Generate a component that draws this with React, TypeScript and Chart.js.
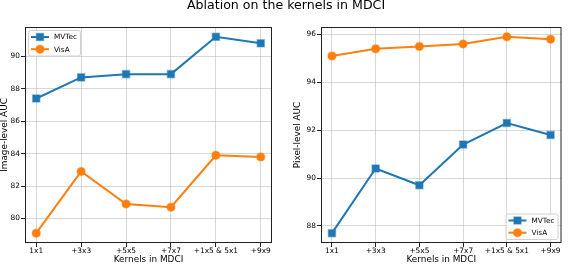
import React, { useEffect, useRef } from 'react';
import { Chart, registerables } from 'chart.js';

Chart.register(...registerables);

const categories = ['1x1', '+3x3', '+5x5', '+7x7', '+1x5 & 5x1', '+9x9'];
const seriesNames = ['MVTec', 'VisA'];
const imageMVTec = [87.4, 88.7, 88.9, 88.9, 91.2, 90.8];
const imageVisA = [79.1, 82.9, 80.9, 80.7, 83.9, 83.8];
const pixelMVTec = [87.7, 90.4, 89.7, 91.4, 92.3, 91.8];
const pixelVisA = [95.1, 95.4, 95.5, 95.6, 95.9, 95.8];
const imageTicks = [80, 82, 84, 86, 88, 90];
const pixelTicks = [88, 90, 92, 94, 96];

const BLUE = '#1f77b4';
const ORANGE = '#ff7f0e';
const BLUE_EDGE = 'rgba(31,119,180,0.45)';
const ORANGE_EDGE = 'rgba(255,127,14,0.45)';
const FONT = '"DejaVu Sans", sans-serif';

function toPoints(vals: number[]) {
  return vals.map((v, i) => ({ x: i, y: v }));
}

function framePlugin() {
  return {
    id: 'mplFrame',
    afterDraw(chart: any) {
      const { ctx, chartArea: a } = chart;
      ctx.save();
      ctx.strokeStyle = '#222';
      ctx.lineWidth = 1;
      ctx.strokeRect(a.left + 0.5, a.top + 0.5, a.right - a.left - 1, a.bottom - a.top - 1);
      ctx.restore();
    },
  };
}

function legendPlugin(corner: 'tl' | 'br') {
  return {
    id: 'mplLegend',
    afterDraw(chart: any) {
      const { ctx, chartArea: a } = chart;
      const fw = 52;
      const fh = 25.5;
      const inset = 3.5;
      const x0 = corner === 'tl' ? a.left + inset : a.right - inset - fw;
      const y0 = corner === 'tl' ? a.top + inset : a.bottom - inset - fh;
      ctx.save();
      const r = 2;
      ctx.beginPath();
      ctx.moveTo(x0 + r, y0);
      ctx.lineTo(x0 + fw - r, y0);
      ctx.arcTo(x0 + fw, y0, x0 + fw, y0 + r, r);
      ctx.lineTo(x0 + fw, y0 + fh - r);
      ctx.arcTo(x0 + fw, y0 + fh, x0 + fw - r, y0 + fh, r);
      ctx.lineTo(x0 + r, y0 + fh);
      ctx.arcTo(x0, y0 + fh, x0, y0 + fh - r, r);
      ctx.lineTo(x0, y0 + r);
      ctx.arcTo(x0, y0, x0 + r, y0, r);
      ctx.closePath();
      ctx.fillStyle = 'rgba(255,255,255,0.8)';
      ctx.fill();
      ctx.strokeStyle = '#d0d0d0';
      ctx.lineWidth = 1;
      ctx.stroke();
      chart.data.datasets.forEach((ds: any, i: number) => {
        const cy = y0 + 6.5 + i * 12.2;
        const hx0 = x0 + 2.5;
        const hx1 = hx0 + 18;
        ctx.strokeStyle = ds.borderColor;
        ctx.lineWidth = ds.borderWidth;
        ctx.beginPath();
        ctx.moveTo(hx0, cy);
        ctx.lineTo(hx1, cy);
        ctx.stroke();
        const mx = (hx0 + hx1) / 2;
        ctx.fillStyle = ds.pointBackgroundColor;
        ctx.strokeStyle = ds.pointBorderColor;
        ctx.lineWidth = ds.pointBorderWidth;
        ctx.beginPath();
        if (ds.pointStyle === 'rect') {
          const s = ds.pointRadius * Math.SQRT1_2;
          ctx.rect(mx - s, cy - s, 2 * s, 2 * s);
        } else {
          ctx.arc(mx, cy, ds.pointRadius, 0, Math.PI * 2);
        }
        ctx.fill();
        ctx.stroke();
        ctx.fillStyle = '#000';
        ctx.font = `7.3px ${FONT}`;
        ctx.textBaseline = 'middle';
        ctx.textAlign = 'left';
        ctx.fillText(ds.label, hx1 + 5, cy + 0.5);
      });
      ctx.restore();
    },
  };
}

function yRange(all: number[]) {
  const lo = Math.min(...all);
  const hi = Math.max(...all);
  const m = (hi - lo) * 0.05;
  return { min: lo - m, max: hi + m };
}

function buildConfig(
  mv: number[],
  va: number[],
  ticks: number[],
  yTitle: string,
  yWidth: number,
  yTitlePad: number,
  padRight: number,
  corner: 'tl' | 'br'
): any {
  const { min, max } = yRange([...mv, ...va]);
  const grid = {
    color: 'rgba(176,176,176,0.5)',
    tickColor: '#222',
    tickLength: 4,
    lineWidth: 1,
  };
  return {
    type: 'line',
    data: {
      datasets: [
        {
          label: seriesNames[0],
          data: toPoints(mv),
          borderColor: BLUE,
          backgroundColor: BLUE,
          borderWidth: 2,
          pointStyle: 'rect',
          pointRadius: 5,
          pointBorderWidth: 1.5,
          pointBackgroundColor: BLUE,
          pointBorderColor: BLUE_EDGE,
        },
        {
          label: seriesNames[1],
          data: toPoints(va),
          borderColor: ORANGE,
          backgroundColor: ORANGE,
          borderWidth: 2,
          pointStyle: 'circle',
          pointRadius: 4,
          pointBorderWidth: 1.5,
          pointBackgroundColor: ORANGE,
          pointBorderColor: ORANGE_EDGE,
        },
      ],
    },
    options: {
      animation: false,
      responsive: false,
      devicePixelRatio: 1,
      layout: { padding: { top: 27, right: padRight, left: 0, bottom: 0 } },
      plugins: {
        legend: { display: false },
        tooltip: { enabled: false },
        title: { display: false },
      },
      scales: {
        x: {
          type: 'linear',
          min: -0.25,
          max: 5.25,
          afterBuildTicks: (s: any) => {
            s.ticks = categories.map((_, i) => ({ value: i }));
          },
          afterFit: (s: any) => {
            s.height = 23;
          },
          ticks: {
            autoSkip: false,
            maxRotation: 0,
            padding: 0,
            color: '#000',
            font: { family: FONT, size: 7.4 },
            callback: (v: any) => categories[Math.round(Number(v))],
          },
          grid,
          border: { display: false },
          title: {
            display: true,
            text: 'Kernels in MDCI',
            color: '#000',
            font: { family: FONT, size: 8.9, lineHeight: 1 },
            padding: { top: 0, bottom: 1.5 },
          },
        },
        y: {
          type: 'linear',
          min,
          max,
          afterBuildTicks: (s: any) => {
            s.ticks = ticks.map((v) => ({ value: v }));
          },
          afterFit: (s: any) => {
            s.width = yWidth;
          },
          ticks: {
            padding: 1,
            color: '#000',
            font: { family: FONT, size: 7.4 },
          },
          grid,
          border: { display: false },
          title: {
            display: true,
            text: yTitle,
            color: '#000',
            font: { family: FONT, size: 8.9, lineHeight: 1 },
            padding: { top: yTitlePad, bottom: 0 },
          },
        },
      },
    },
    plugins: [framePlugin(), legendPlugin(corner)],
  };
}

export default function App() {
  const leftRef = useRef<HTMLCanvasElement>(null);
  const rightRef = useRef<HTMLCanvasElement>(null);

  useEffect(() => {
    const c1 = new Chart(
      leftRef.current as HTMLCanvasElement,
      buildConfig(imageMVTec, imageVisA, imageTicks, 'Image-level AUC', 25, 0, 12, 'tl')
    );
    const c2 = new Chart(
      rightRef.current as HTMLCanvasElement,
      buildConfig(pixelMVTec, pixelVisA, pixelTicks, 'Pixel-level AUC', 37, 9, 2, 'br')
    );
    return () => {
      c1.destroy();
      c2.destroy();
    };
  }, []);

  return (
    <div style={{ position: 'absolute', left: 0, top: 0, width: 568, height: 266, background: '#fff', overflow: 'hidden' }}>
      <canvas
        ref={leftRef}
        width={284}
        height={266}
        style={{ position: 'absolute', left: 0, top: 0, width: 284, height: 266 }}
      />
      <canvas
        ref={rightRef}
        width={284}
        height={266}
        style={{ position: 'absolute', left: 284, top: 0, width: 284, height: 266 }}
      />
      <div
        style={{
          position: 'absolute',
          left: 286,
          top: -1,
          transform: 'translateX(-50%)',
          whiteSpace: 'nowrap',
          fontFamily: FONT,
          fontSize: 12.6,
          lineHeight: '12.6px',
          color: '#000',
        }}
      >
        Ablation on the kernels in MDCI
      </div>
    </div>
  );
}
